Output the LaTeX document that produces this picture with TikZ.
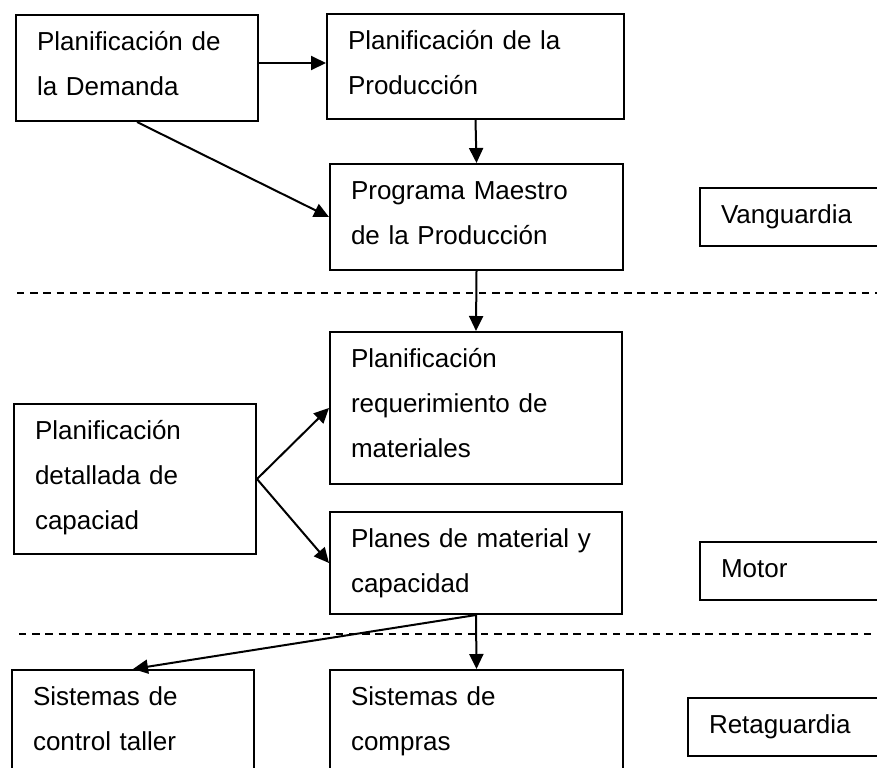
\documentclass[tikz,border=0pt]{standalone}
\usepackage{fontspec,tikz}
\usetikzlibrary{arrows.meta}
\setmainfont{Liberation Sans}

\tikzset{
  caja/.style={draw, line width=1pt, anchor=north west, align=left,
    inner xsep=10.5pt, inner ysep=0pt, text height=17.5pt,
    font=\fontsize{13pt}{22.5pt}\selectfont},
  flecha/.style={-{Triangle[length=7.5pt,width=7pt]}, line width=1pt},
  corte/.style={dash pattern=on 3.7pt off 2.9pt, line width=0.7pt}
}

\begin{document}
\begin{tikzpicture}[x=0.5pt, y=-0.5pt]
      \useasboundingbox (0,0) rectangle (877,767);
      \clip (0,0) rectangle (877,767);
      % vanguardia
      \node[caja, text width=100pt, text depth=35.5pt] (dem) at (15,14) {Planificación de\\la Demanda};
      \node[caja, text width=127.5pt, text depth=35pt] (prod) at (326,13) {Planificación de la\\Producción};
      \node[caja, text width=125.5pt, text depth=35.5pt] (mps) at (329,163) {Programa Maestro\\de la Producción};
      \node[caja, text width=100pt, text depth=11.5pt] (vang) at (699,187) {Vanguardia};
      % motor
      \node[caja, text width=125pt, text depth=58.5pt] (mrp) at (329,331) {Planificación\\requerimiento de\\materiales};
      \node[caja, text width=100pt, text depth=57.5pt] (crp) at (13,403) {Planificación\\detallada de\\capaciad};
      \node[caja, text width=125pt, text depth=33.5pt] (planes) at (329,511) {Planes de material y\\capacidad};
      \node[caja, text width=100pt, text depth=11.5pt] (motor) at (699,541) {Motor};
      % retaguardia
      \node[caja, text width=100pt, text depth=60pt] (taller) at (11,669) {Sistemas de\\control taller};
      \node[caja, text width=125.5pt, text depth=60pt] (compras) at (329,669) {Sistemas de\\compras};
      \node[caja, text width=100pt, text depth=11.5pt] (reta) at (687,697) {Retaguardia};

      \draw [corte] (17,293) -- (877,293);
      \draw [corte] (19,634) -- (877,634);

      \draw [flecha] ([yshift=2.5pt]dem.east) -- ([yshift=2.5pt]dem.east -| prod.west);
      \draw [flecha] (dem.south) -- (mps.west);
      \draw [flecha] (prod.south) -- (mps.north);
      \draw [flecha] (mps.south) -- (mrp.north);
      \draw [flecha] (crp.east) -- (mrp.west);
      \draw [flecha] (crp.east) -- (planes.west);
      \draw [flecha] (planes.south) -- (compras.north);
      \draw [flecha] (planes.south) -- (taller.north);
\end{tikzpicture}
\end{document}
